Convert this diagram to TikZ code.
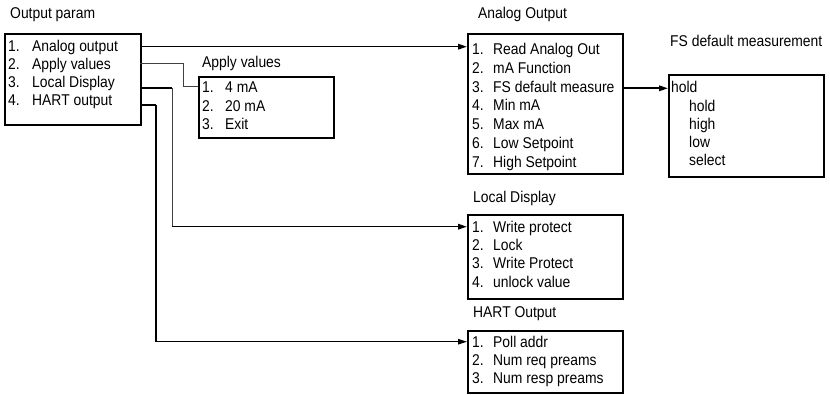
\documentclass[tikz,border=0pt]{standalone}
\usepackage{fontspec}
\setmainfont{Liberation Sans}[FakeStretch=0.89]
\usetikzlibrary{arrows.meta}
\newcommand{\itm}[3]{\makebox[#1][l]{#2}#3}
\begin{document}
\begin{tikzpicture}[x=1pt,y=-1pt,
  box/.style={draw, line width=1.6pt, inner sep=0pt, anchor=north west},
  lbl/.style={inner sep=0pt, anchor=base west, font=\fontsize{15.6}{18}\selectfont},
  conn/.style={line width=1.6pt},
  thinconn/.style={line width=1pt, draw=black!75},
  arr/.style={-{Triangle[length=9pt,width=5.5pt]}}]
\useasboundingbox (0,0) rectangle (830,395);

% boxes
\node[box, minimum width=136pt, minimum height=91pt] (op) at (4,33) {};
\node[box, minimum width=135pt, minimum height=61pt] (av) at (198,76) {};
\node[box, minimum width=155pt, minimum height=140pt] (ao) at (467,33) {};
\node[box, minimum width=155pt, minimum height=102pt] (fs) at (668,74) {};
\node[box, minimum width=155pt, minimum height=84pt] (ld) at (467,214) {};
\node[box, minimum width=155pt, minimum height=62pt] (ho) at (467,330) {};

% titles
\node[lbl] (opT) at (10,18.5) {Output param};
\node[lbl] (avT) at (202,68) {Apply values};
\node[lbl] (aoT) at (478,18.5) {Analog Output};
\node[lbl] (fsT) at (670,47) {FS default measurement};
\node[lbl] (ldT) at (473,203) {Local Display};
\node[lbl] (hoT) at (473,318) {HART Output};

% Output param items
\node[lbl] (op1) at (8,51.5) {\itm{24pt}{1.}{Analog output}};
\node[lbl] (op2) at (8,69.5) {\itm{24pt}{2.}{Apply values}};
\node[lbl] (op3) at (8,87.5) {\itm{24pt}{3.}{Local Display}};
\node[lbl] (op4) at (8,105.5) {\itm{24pt}{4.}{HART output}};

% Apply values items
\node[lbl] (av1) at (202,93) {\itm{23pt}{1.}{4 mA}};
\node[lbl] (av2) at (202,111.5) {\itm{23pt}{2.}{20 mA}};
\node[lbl] (av3) at (202,130) {\itm{23pt}{3.}{Exit}};

% Analog Output items
\node[lbl] (ao1) at (472,54.5) {\itm{21pt}{1.}{Read Analog Out}};
\node[lbl] (ao2) at (472,73.3) {\itm{21pt}{2.}{mA Function}};
\node[lbl] (ao3) at (472,92.1) {\itm{21pt}{3.}{FS default measure}};
\node[lbl] (ao4) at (472,110.9) {\itm{21pt}{4.}{Min mA}};
\node[lbl] (ao5) at (472,129.7) {\itm{21pt}{5.}{Max mA}};
\node[lbl] (ao6) at (472,148.5) {\itm{21pt}{6.}{Low Setpoint}};
\node[lbl] (ao7) at (472,167.3) {\itm{21pt}{7.}{High Setpoint}};

% FS default items
\node[lbl] (fs1) at (671,93) {hold};
\node[lbl] (fs2) at (689,111.2) {hold};
\node[lbl] (fs3) at (689,129.4) {high};
\node[lbl] (fs4) at (689,147.6) {low};
\node[lbl] (fs5) at (689,165.8) {select};

% Local Display items
\node[lbl] (ld1) at (472,232.2) {\itm{21pt}{1.}{Write protect}};
\node[lbl] (ld2) at (472,250.5) {\itm{21pt}{2.}{Lock}};
\node[lbl] (ld3) at (472,268.8) {\itm{21pt}{3.}{Write Protect}};
\node[lbl] (ld4) at (472,287.1) {\itm{21pt}{4.}{unlock value}};

% HART Output items
\node[lbl] (ho1) at (472,347) {\itm{21pt}{1.}{Poll addr}};
\node[lbl] (ho2) at (472,365.3) {\itm{21pt}{2.}{Num req preams}};
\node[lbl] (ho3) at (472,383.6) {\itm{21pt}{3.}{Num resp preams}};

% connector coordinates
\coordinate (a0) at (140,46.7);
\coordinate (b0) at (140,64);
\coordinate (b1) at (183,64);
\coordinate (b2) at (183,86.5);
\coordinate (c0) at (140,88.3);
\coordinate (c1) at (172,88.3);
\coordinate (c2) at (172,226.7);
\coordinate (d0) at (140,105);
\coordinate (d1) at (156,105);
\coordinate (d2) at (156,341.7);
\coordinate (f0) at (622,88.3);

% connectors
\draw[conn,arr] (a0) -- (ao.west |- a0);
\draw[thinconn] (b0) -- (b1) -- (b2) -- (av.west |- b2);
\draw[conn] (c0) -- (c1);
\draw[thinconn] (c1) -- (c2);
\draw[conn,arr] (c2) -- (ld.west |- c2);
\draw[line width=1.2pt] (d0) -- (d1);
\draw[conn] (d1) -- (d2);
\draw[line width=1.2pt,arr] (d2) -- (ho.west |- d2);
\draw[conn,arr] (f0) -- (fs.west |- f0);
\end{tikzpicture}
\end{document}
